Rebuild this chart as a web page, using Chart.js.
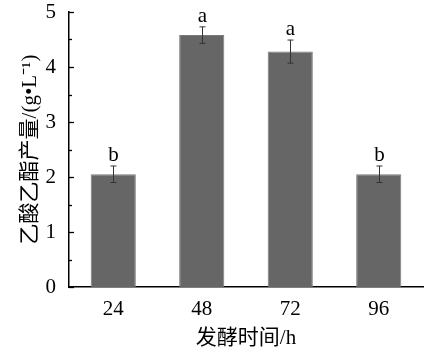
<!DOCTYPE html>
<html>
<head>
<meta charset="utf-8">
<script src="https://cdn.jsdelivr.net/npm/chart.js@4"></script>
<style>
  body { margin: 0; background: #fff; }
  #wrap { width: 424px; height: 355px; }
</style>
</head>
<body>
<div id="wrap"><canvas id="canvas"></canvas></div>
<script>
var hours = ['24', '48', '72', '96'];
var yields = [2.05, 4.58, 4.28, 2.05];
var errs = [0.15, 0.15, 0.21, 0.15];
var letters = ['b', 'a', 'a', 'b'];
var yTicks = [0, 1, 2, 3, 4, 5];

var serif = "'Liberation Serif', 'Noto Sans CJK SC', serif";

// error bars, letters and inner tick marks
var extras = {
    id: 'extras',
    afterDatasetsDraw: function (chart) {
        var ctx = chart.ctx;
        var y = chart.scales.y;
        var meta = chart.getDatasetMeta(0);
        ctx.save();
        ctx.strokeStyle = '#333';
        ctx.lineWidth = 1;
        for (var i = 0; i < yields.length; i++) {
            var x = Math.round(meta.data[i].x) + 0.5;
            var top = y.getPixelForValue(yields[i] + errs[i]);
            var bot = y.getPixelForValue(yields[i] - errs[i]);
            ctx.beginPath();
            ctx.moveTo(x, top); ctx.lineTo(x, bot);
            ctx.moveTo(x - 3, top); ctx.lineTo(x + 3, top);
            ctx.moveTo(x - 3, bot); ctx.lineTo(x + 3, bot);
            ctx.stroke();
            ctx.fillStyle = '#000';
            ctx.font = '21px ' + serif;
            ctx.textAlign = 'center';
            ctx.textBaseline = 'alphabetic';
            ctx.fillText(letters[i], x, top - 5);
        }
        // ticks pointing into the plot
        ctx.strokeStyle = '#000';
        ctx.lineWidth = 1.3;
        var left = chart.chartArea.left;
        for (var v = 0; v <= 5; v += 0.5) {
            var py = Math.round(y.getPixelForValue(v)) + 0.5;
            var len = (v % 1 === 0) ? 5 : 3;
            ctx.beginPath();
            ctx.moveTo(left, py); ctx.lineTo(left + len, py);
            ctx.stroke();
        }
        ctx.restore();
    }
};

window.onload = function () {
    var ctx = document.getElementById('canvas').getContext('2d');
    new Chart(ctx, {
        type: 'bar',
        data: {
            labels: hours,
            datasets: [{
                data: yields,
                backgroundColor: '#666666',
                borderColor: '#7a7a7a',
                borderWidth: 1,
                barPercentage: 0.51,
                categoryPercentage: 1
            }]
        },
        options: {
            responsive: true,
            maintainAspectRatio: false,
            animation: false,
            layout: { padding: { top: 12, right: 1, left: 0, bottom: 0 } },
            plugins: {
                legend: { display: false },
                tooltip: { enabled: false }
            },
            scales: {
                x: {
                    grid: { display: false, drawTicks: false },
                    border: { display: true, color: '#000', width: 1.5 },
                    ticks: {
                        color: '#000',
                        padding: 10,
                        font: { family: serif, size: 21 }
                    },
                    title: {
                        display: true,
                        text: '发酵时间/h',
                        color: '#000',
                        padding: { top: 4 },
                        font: { family: serif, size: 21 }
                    },
                    afterFit: function (s) {
                        s.height = 68;
                        s.paddingLeft = 0;
                        s.paddingRight = 0;
                    }
                },
                y: {
                    min: 0,
                    max: 5,
                    afterBuildTicks: function (s) {
                        s.ticks = yTicks.map(function (v) { return { value: v }; });
                    },
                    grid: { display: false, drawTicks: false },
                    border: { display: true, color: '#000', width: 1.5 },
                    ticks: {
                        color: '#000',
                        padding: 13,
                        font: { family: serif, size: 21 }
                    },
                    title: {
                        display: true,
                        text: '乙酸乙酯产量/(g•L⁻¹)',
                        color: '#000',
                        padding: { top: 18, bottom: 0 },
                        font: { family: serif, size: 21 }
                    },
                    afterFit: function (s) {
                        s.width = 69;
                        s.paddingTop = 0;
                        s.paddingBottom = 0;
                    }
                }
            }
        },
        plugins: [extras]
    });
};
</script>
</body>
</html>
